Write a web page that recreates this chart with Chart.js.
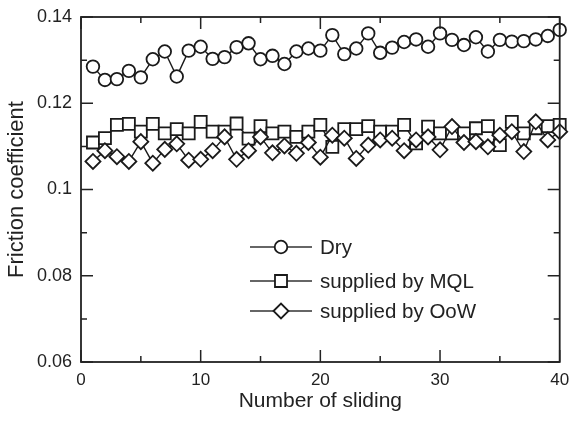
<!DOCTYPE html>
<html>
<head>
<meta charset="utf-8">
<script src="https://cdn.jsdelivr.net/npm/chart.js@4/dist/chart.umd.min.js"></script>
<style>
html,body{margin:0;padding:0;background:#fff;}
#wrap{width:570px;height:422px;}
</style>
</head>
<body>
<div id="wrap"><canvas id="c" width="570" height="422"></canvas></div>
<script>
// ---- data ----
const slidingNumbers = [1,2,3,4,5,6,7,8,9,10,11,12,13,14,15,16,17,18,19,20,21,22,23,24,25,26,27,28,29,30,31,32,33,34,35,36,37,38,39,40];
const dryValues = [0.1285,0.1254,0.1256,0.1275,0.1260,0.1302,0.1320,0.1262,0.1322,0.1331,0.1303,0.1307,0.1330,0.1339,0.1302,0.1310,0.1291,0.1320,0.1327,0.1322,0.1358,0.1314,0.1327,0.1362,0.1317,0.1329,0.1342,0.1348,0.1331,0.1362,0.1347,0.1335,0.1353,0.1320,0.1347,0.1343,0.1344,0.1348,0.1356,0.1370];
const mqlValues = [0.1109,0.1119,0.1150,0.1152,0.1134,0.1152,0.1130,0.1140,0.1130,0.1157,0.1134,0.1134,0.1153,0.1118,0.1147,0.1130,0.1134,0.1122,0.1134,0.1150,0.1099,0.1140,0.1140,0.1147,0.1134,0.1134,0.1150,0.1107,0.1146,0.1130,0.1130,0.1130,0.1142,0.1147,0.1103,0.1157,0.1130,0.1142,0.1147,0.1150];
const oowValues = [0.1065,0.1090,0.1076,0.1065,0.1111,0.1061,0.1093,0.1106,0.1068,0.1070,0.1090,0.1122,0.1070,0.1090,0.1122,0.1085,0.1101,0.1084,0.1109,0.1075,0.1126,0.1119,0.1072,0.1103,0.1115,0.1119,0.1090,0.1115,0.1122,0.1092,0.1146,0.1109,0.1111,0.1099,0.1126,0.1134,0.1088,0.1157,0.1115,0.1134];
const seriesNames = ['Dry','supplied by MQL','supplied by OoW'];
const xTickLabels = ['0','10','20','30','40'];
const xTickValues = [0,10,20,30,40];
const xMinorValues = [5,15,25,35];
const yTickLabels = ['0.06','0.08','0.1','0.12','0.14'];
const yTickValues = [0.06,0.08,0.10,0.12,0.14];
const yMinorValues = [0.07,0.09,0.11,0.13];
const xTitle = 'Number of sliding';
const yTitle = 'Friction coefficient';

const INK = '#1a1a1a';
const FONT = '"Liberation Sans", Arial, Helvetica, sans-serif';

function pts(vals){ return slidingNumbers.map((x,i)=>({x:x,y:vals[i]})); }

const styles = [
  {pointStyle:'circle', pointRadius:6.3, order:3},
  {pointStyle:'rect', pointRadius:8.5, order:2},
  {pointStyle:'rectRot', pointRadius:7.5, order:1}
];
const valueSets = [dryValues, mqlValues, oowValues];

const datasets = valueSets.map((v,i)=>({
  label: seriesNames[i],
  data: pts(v),
  showLine: true,
  borderColor: INK,
  borderWidth: 1.4,
  pointStyle: styles[i].pointStyle,
  pointRadius: styles[i].pointRadius,
  pointHoverRadius: styles[i].pointRadius,
  pointBackgroundColor: '#fff',
  pointBorderColor: INK,
  pointBorderWidth: 1.8,
  order: styles[i].order,
  clip: false
}));

const frameTicks = {
  id: 'frameTicks',
  afterDraw(chart){
    const {ctx, chartArea:a, scales:{x, y}} = chart;
    ctx.save();
    ctx.strokeStyle = '#222';
    ctx.lineWidth = 1.8;
    ctx.strokeRect(a.left, a.top, a.right-a.left, a.bottom-a.top);
    ctx.lineWidth = 1.5;
    const MAJ = 12, MIN = 6;
    ctx.beginPath();
    xTickValues.forEach(v=>{const p=x.getPixelForValue(v);
      ctx.moveTo(p,a.bottom);ctx.lineTo(p,a.bottom-MAJ);ctx.moveTo(p,a.top);ctx.lineTo(p,a.top+MAJ);});
    xMinorValues.forEach(v=>{const p=x.getPixelForValue(v);
      ctx.moveTo(p,a.bottom);ctx.lineTo(p,a.bottom-MIN);ctx.moveTo(p,a.top);ctx.lineTo(p,a.top+MIN);});
    yTickValues.forEach(v=>{const p=y.getPixelForValue(v);
      ctx.moveTo(a.left,p);ctx.lineTo(a.left+MAJ,p);ctx.moveTo(a.right,p);ctx.lineTo(a.right-MAJ,p);});
    yMinorValues.forEach(v=>{const p=y.getPixelForValue(v);
      ctx.moveTo(a.left,p);ctx.lineTo(a.left+MIN,p);ctx.moveTo(a.right,p);ctx.lineTo(a.right-MIN,p);});
    ctx.stroke();

    // legend inside plot
    const rows = [247, 281, 311];
    const x0 = 250, x1 = 312, xm = 281, xt = 320;
    chart.data.datasets.forEach((ds,i)=>{
      const yy = rows[i];
      ctx.strokeStyle = '#333';
      ctx.lineWidth = 1.3;
      ctx.beginPath(); ctx.moveTo(x0,yy); ctx.lineTo(x1,yy); ctx.stroke();
      ctx.fillStyle = '#fff';
      ctx.strokeStyle = INK;
      ctx.lineWidth = 1.8;
      ctx.beginPath();
      Chart.helpers.drawPoint(ctx, {pointStyle: ds.pointStyle, rotation:0, borderWidth:1.8, radius: ds.pointRadius}, xm, yy);
      ctx.fillStyle = '#222';
      ctx.font = '20.5px ' + FONT;
      ctx.textBaseline = 'middle';
      ctx.textAlign = 'left';
      ctx.fillText(ds.label, xt, yy+1);
    });
    ctx.restore();
  }
};

new Chart(document.getElementById('c'), {
  type: 'scatter',
  data: { datasets },
  plugins: [frameTicks],
  options: {
    responsive: false,
    animation: false,
    devicePixelRatio: 1,
    layout: { padding: { top: 17, right: 6, left: 0, bottom: 0 } },
    plugins: { legend: { display: false }, tooltip: { enabled: false } },
    scales: {
      x: {
        type: 'linear', min: 0, max: 40,
        afterBuildTicks(s){ s.ticks = xTickValues.map(v=>({value:v})); },
        afterFit(s){ s.height = 60; s.paddingLeft = 0; s.paddingRight = 0; },
        grid: { display: false, drawTicks: false },
        border: { display: false },
        ticks: {
          padding: 8, color: '#222', maxRotation: 0, autoSkip: false,
          font: { family: FONT, size: 17 },
          callback: (v)=>{ const i = xTickValues.indexOf(v); return i>=0 ? xTickLabels[i] : ''; }
        },
        title: { display: true, text: xTitle, color: '#222',
          font: { family: FONT, size: 21 }, padding: { top: 0, bottom: 8 } }
      },
      y: {
        type: 'linear', min: 0.06, max: 0.14,
        afterBuildTicks(s){ s.ticks = yTickValues.map(v=>({value:v})); },
        afterFit(s){ s.width = 81; s.paddingTop = 0; s.paddingBottom = 0; },
        grid: { display: false, drawTicks: false },
        border: { display: false },
        ticks: {
          padding: 9, color: '#222', autoSkip: false,
          font: { family: FONT, size: 18 },
          callback: (v)=>{ const i = yTickValues.findIndex(t=>Math.abs(t-v)<1e-9); return i>=0 ? yTickLabels[i] : ''; }
        },
        title: { display: true, text: yTitle, color: '#222',
          font: { family: FONT, size: 22 }, padding: { top: 4, bottom: 0 } }
      }
    }
  }
});
</script>
</body>
</html>
